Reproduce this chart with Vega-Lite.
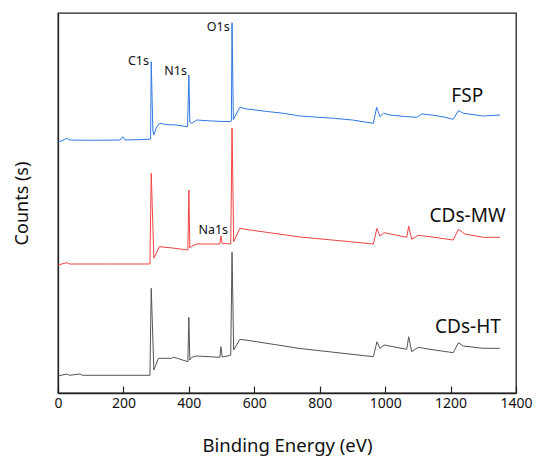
{
  "$schema": "https://vega.github.io/schema/vega-lite/v6.json",
  "width": 458,
  "height": 380,
  "autosize": {"type": "none"},
  "padding": {"left": 58, "top": 13, "right": 20, "bottom": 64},
  "background": "white",
  "config": {
    "view": {"stroke": "#222", "strokeWidth": 1.3},
    "font": "Noto Sans"
  },
  "datasets": {
    "spectra": [
      {"series": "FSP", "eV": 0, "counts": 251.3},
      {"series": "FSP", "eV": 10, "counts": 252},
      {"series": "FSP", "eV": 27, "counts": 254.7},
      {"series": "FSP", "eV": 35, "counts": 253},
      {"series": "FSP", "eV": 100, "counts": 252.7},
      {"series": "FSP", "eV": 190, "counts": 253},
      {"series": "FSP", "eV": 198, "counts": 256.3},
      {"series": "FSP", "eV": 205, "counts": 253},
      {"series": "FSP", "eV": 279, "counts": 253.7},
      {"series": "FSP", "eV": 283, "counts": 254},
      {"series": "FSP", "eV": 285, "counts": 331.3},
      {"series": "FSP", "eV": 290, "counts": 262},
      {"series": "FSP", "eV": 293, "counts": 258},
      {"series": "FSP", "eV": 300, "counts": 265},
      {"series": "FSP", "eV": 310, "counts": 269.7},
      {"series": "FSP", "eV": 330, "counts": 268.5},
      {"series": "FSP", "eV": 360, "counts": 268},
      {"series": "FSP", "eV": 396, "counts": 266.3},
      {"series": "FSP", "eV": 400, "counts": 318},
      {"series": "FSP", "eV": 403, "counts": 271},
      {"series": "FSP", "eV": 409, "counts": 269.7},
      {"series": "FSP", "eV": 424, "counts": 273},
      {"series": "FSP", "eV": 470, "counts": 272},
      {"series": "FSP", "eV": 526, "counts": 271.3},
      {"series": "FSP", "eV": 530, "counts": 272},
      {"series": "FSP", "eV": 532, "counts": 370.3},
      {"series": "FSP", "eV": 536, "counts": 273.5},
      {"series": "FSP", "eV": 556, "counts": 285.7},
      {"series": "FSP", "eV": 575, "counts": 284},
      {"series": "FSP", "eV": 587, "counts": 283.7},
      {"series": "FSP", "eV": 640, "counts": 281.5},
      {"series": "FSP", "eV": 689, "counts": 279.7},
      {"series": "FSP", "eV": 740, "counts": 277},
      {"series": "FSP", "eV": 842, "counts": 274.7},
      {"series": "FSP", "eV": 900, "counts": 273},
      {"series": "FSP", "eV": 964, "counts": 269.7},
      {"series": "FSP", "eV": 974, "counts": 285.7},
      {"series": "FSP", "eV": 984, "counts": 276.3},
      {"series": "FSP", "eV": 995, "counts": 279.7},
      {"series": "FSP", "eV": 1015, "counts": 278},
      {"series": "FSP", "eV": 1060, "counts": 276.5},
      {"series": "FSP", "eV": 1097, "counts": 275.7},
      {"series": "FSP", "eV": 1112, "counts": 279},
      {"series": "FSP", "eV": 1142, "counts": 278},
      {"series": "FSP", "eV": 1180, "counts": 276},
      {"series": "FSP", "eV": 1208, "counts": 273.7},
      {"series": "FSP", "eV": 1224, "counts": 282.3},
      {"series": "FSP", "eV": 1240, "counts": 279.7},
      {"series": "FSP", "eV": 1300, "counts": 277},
      {"series": "FSP", "eV": 1351, "counts": 278},

      {"series": "CDs-MW", "eV": 0, "counts": 128},
      {"series": "CDs-MW", "eV": 27, "counts": 130.3},
      {"series": "CDs-MW", "eV": 35, "counts": 129},
      {"series": "CDs-MW", "eV": 150, "counts": 129},
      {"series": "CDs-MW", "eV": 281, "counts": 129},
      {"series": "CDs-MW", "eV": 285, "counts": 219.7},
      {"series": "CDs-MW", "eV": 293, "counts": 134.7},
      {"series": "CDs-MW", "eV": 310, "counts": 146.3},
      {"series": "CDs-MW", "eV": 350, "counts": 145},
      {"series": "CDs-MW", "eV": 397, "counts": 143},
      {"series": "CDs-MW", "eV": 400, "counts": 203},
      {"series": "CDs-MW", "eV": 403, "counts": 145},
      {"series": "CDs-MW", "eV": 409, "counts": 147},
      {"series": "CDs-MW", "eV": 424, "counts": 149},
      {"series": "CDs-MW", "eV": 495, "counts": 149},
      {"series": "CDs-MW", "eV": 498, "counts": 157},
      {"series": "CDs-MW", "eV": 502, "counts": 149.7},
      {"series": "CDs-MW", "eV": 528, "counts": 149},
      {"series": "CDs-MW", "eV": 532, "counts": 265},
      {"series": "CDs-MW", "eV": 537, "counts": 151.3},
      {"series": "CDs-MW", "eV": 556, "counts": 164.7},
      {"series": "CDs-MW", "eV": 587, "counts": 163},
      {"series": "CDs-MW", "eV": 740, "counts": 156},
      {"series": "CDs-MW", "eV": 893, "counts": 151.3},
      {"series": "CDs-MW", "eV": 964, "counts": 149},
      {"series": "CDs-MW", "eV": 975, "counts": 164.7},
      {"series": "CDs-MW", "eV": 984, "counts": 157},
      {"series": "CDs-MW", "eV": 997, "counts": 160.3},
      {"series": "CDs-MW", "eV": 1066, "counts": 155.7},
      {"series": "CDs-MW", "eV": 1072, "counts": 167},
      {"series": "CDs-MW", "eV": 1081, "counts": 153.7},
      {"series": "CDs-MW", "eV": 1101, "counts": 157.7},
      {"series": "CDs-MW", "eV": 1137, "counts": 156.3},
      {"series": "CDs-MW", "eV": 1208, "counts": 153},
      {"series": "CDs-MW", "eV": 1224, "counts": 163.7},
      {"series": "CDs-MW", "eV": 1244, "counts": 159},
      {"series": "CDs-MW", "eV": 1300, "counts": 155.7},
      {"series": "CDs-MW", "eV": 1351, "counts": 155.7},

      {"series": "CDs-HT", "eV": 0, "counts": 17},
      {"series": "CDs-HT", "eV": 27, "counts": 19},
      {"series": "CDs-HT", "eV": 35, "counts": 17.7},
      {"series": "CDs-HT", "eV": 67, "counts": 19},
      {"series": "CDs-HT", "eV": 75, "counts": 17.7},
      {"series": "CDs-HT", "eV": 281, "counts": 17.7},
      {"series": "CDs-HT", "eV": 285, "counts": 104.7},
      {"series": "CDs-HT", "eV": 293, "counts": 23},
      {"series": "CDs-HT", "eV": 307, "counts": 34.7},
      {"series": "CDs-HT", "eV": 348, "counts": 34.7},
      {"series": "CDs-HT", "eV": 352, "counts": 36},
      {"series": "CDs-HT", "eV": 397, "counts": 31.3},
      {"series": "CDs-HT", "eV": 400, "counts": 75.7},
      {"series": "CDs-HT", "eV": 403, "counts": 33},
      {"series": "CDs-HT", "eV": 409, "counts": 35.7},
      {"series": "CDs-HT", "eV": 424, "counts": 37},
      {"series": "CDs-HT", "eV": 495, "counts": 35.7},
      {"series": "CDs-HT", "eV": 498, "counts": 46.3},
      {"series": "CDs-HT", "eV": 502, "counts": 36},
      {"series": "CDs-HT", "eV": 528, "counts": 37.7},
      {"series": "CDs-HT", "eV": 532, "counts": 140.7},
      {"series": "CDs-HT", "eV": 537, "counts": 43},
      {"series": "CDs-HT", "eV": 556, "counts": 53.7},
      {"series": "CDs-HT", "eV": 587, "counts": 52.3},
      {"series": "CDs-HT", "eV": 740, "counts": 44.5},
      {"series": "CDs-HT", "eV": 964, "counts": 36.3},
      {"series": "CDs-HT", "eV": 975, "counts": 51.3},
      {"series": "CDs-HT", "eV": 984, "counts": 44.7},
      {"series": "CDs-HT", "eV": 997, "counts": 48},
      {"series": "CDs-HT", "eV": 1066, "counts": 43.7},
      {"series": "CDs-HT", "eV": 1072, "counts": 56.3},
      {"series": "CDs-HT", "eV": 1081, "counts": 41.3},
      {"series": "CDs-HT", "eV": 1101, "counts": 45.7},
      {"series": "CDs-HT", "eV": 1137, "counts": 43.7},
      {"series": "CDs-HT", "eV": 1208, "counts": 40.3},
      {"series": "CDs-HT", "eV": 1224, "counts": 50.3},
      {"series": "CDs-HT", "eV": 1239, "counts": 47},
      {"series": "CDs-HT", "eV": 1300, "counts": 44.7},
      {"series": "CDs-HT", "eV": 1351, "counts": 44.7}
    ],
    "peaks": [
      {"label": "C1s", "eV": 281, "counts": 332},
      {"label": "N1s", "eV": 397, "counts": 322},
      {"label": "O1s", "eV": 528, "counts": 366},
      {"label": "Na1s", "eV": 523, "counts": 163.5}
    ],
    "names": [
      {"label": "FSP", "eV": 1251, "counts": 297},
      {"label": "CDs-MW", "eV": 1252, "counts": 177},
      {"label": "CDs-HT", "eV": 1253, "counts": 66}
    ]
  },
  "layer": [
    {
      "data": {"name": "spectra"},
      "mark": {"type": "line", "strokeWidth": 1, "interpolate": "linear"},
      "encoding": {
        "x": {
          "field": "eV", "type": "quantitative",
          "scale": {"domain": [0, 1400], "nice": false, "zero": false},
          "axis": {
            "title": "Binding Energy (eV)",
            "titleFont": "Noto Sans", "titleFontSize": 18.5, "titleFontWeight": "normal", "titleColor": "#111",
            "titlePadding": 26,
            "values": [0, 100, 200, 300, 400, 500, 600, 700, 800, 900, 1000, 1100, 1200, 1300, 1400],
            "labelExpr": "datum.value % 200 === 0 ? datum.label : ''",
            "format": "d",
            "labelFont": "Noto Sans", "labelFontSize": 14, "labelColor": "#111",
            "labelPadding": 10,
            "labelFlush": false, "labelOverlap": false,
            "tickSize": {"condition": {"test": "datum.value % 200 === 0", "value": -7}, "value": -4},
            "tickColor": "#222", "tickWidth": 1.2,
            "domainColor": "#222", "domainWidth": 1.3,
            "grid": false
          }
        },
        "y": {
          "field": "counts", "type": "quantitative",
          "scale": {"domain": [0, 380], "nice": false, "zero": false},
          "axis": {
            "title": "Counts (s)",
            "titleFont": "Noto Sans", "titleFontSize": 18, "titleFontWeight": "normal", "titleColor": "#111",
            "titlePadding": 27,
            "labels": false, "ticks": false, "grid": false,
            "domainColor": "#222", "domainWidth": 1.3
          }
        },
        "color": {
          "field": "series", "type": "nominal",
          "scale": {"domain": ["FSP", "CDs-MW", "CDs-HT"], "range": ["#2f78e4", "#f04444", "#555555"]},
          "legend": null
        },
        "detail": {"field": "series"}
      }
    },
    {
      "data": {"name": "peaks"},
      "mark": {"type": "text", "align": "right", "baseline": "middle", "fontSize": 12.5, "font": "Noto Sans", "color": "#111", "dx": -1},
      "encoding": {
        "x": {"field": "eV", "type": "quantitative"},
        "y": {"field": "counts", "type": "quantitative"},
        "text": {"field": "label"}
      }
    },
    {
      "data": {"name": "names"},
      "mark": {"type": "text", "align": "center", "baseline": "middle", "fontSize": 19, "font": "Noto Sans", "color": "#111"},
      "encoding": {
        "x": {"field": "eV", "type": "quantitative"},
        "y": {"field": "counts", "type": "quantitative"},
        "text": {"field": "label"}
      }
    }
  ]
}
